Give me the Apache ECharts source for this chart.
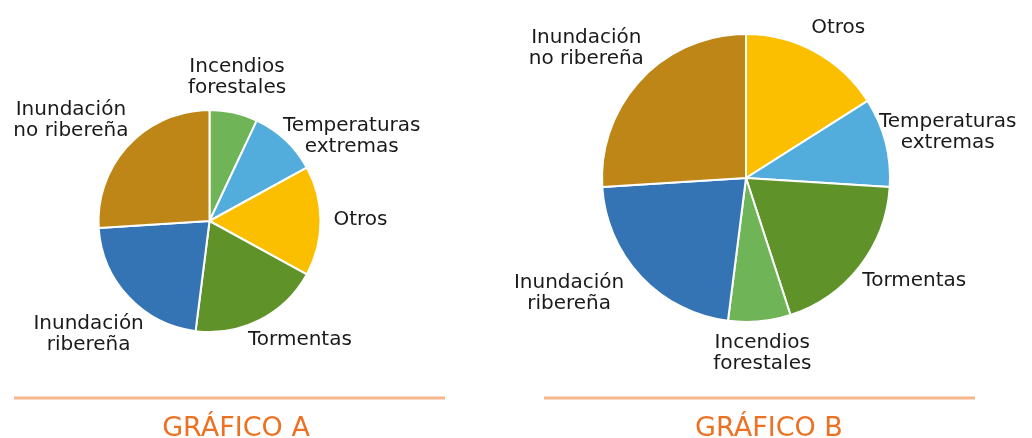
<!DOCTYPE html>
<html>
<head>
<meta charset="utf-8">
<script src="https://cdn.jsdelivr.net/npm/echarts@6/dist/echarts.min.js"></script>
<style>
  html, body { margin: 0; padding: 0; background: #fff; }
  #chart { width: 1032px; height: 438px; }
</style>
</head>
<body>
<div id="chart"></div>
<script>
// datos de los dos gráficos (porcentajes)
const categoriesA = ['Incendios\nforestales', 'Temperaturas\nextremas', 'Otros', 'Tormentas', 'Inundación\nribereña', 'Inundación\nno ribereña']
const valuesA = [7, 10, 16, 19, 22, 26]

const categoriesB = ['Otros', 'Temperaturas\nextremas', 'Tormentas', 'Incendios\nforestales', 'Inundación\nribereña', 'Inundación\nno ribereña']
const valuesB = [16, 10, 19, 7, 22, 26]

const titles = ['GRÁFICO A', 'GRÁFICO B']

// colores por categoría
const colorMap = {
  'Incendios\nforestales': '#6fb557',
  'Temperaturas\nextremas': '#52addd',
  'Otros': '#fbbf00',
  'Tormentas': '#60922a',
  'Inundación\nribereña': '#3474b4',
  'Inundación\nno ribereña': '#be8617',
}

// geometría de cada tarta
const pieA = { cx: 209.5, cy: 221, r: 111 }
const pieB = { cx: 746, cy: 178, r: 144 }
const labelGap = 12

// pequeños ajustes manuales de las etiquetas [dx, dy]
const nudgeA = [[-10, -3], [11, 20], [1, -1], [11, 0], [9, 15], [-7, -2]]
const nudgeB = [[4, -4], [-16, -2], [4, 1], [-3, -1], [-23, -6], [-4, -9]]

const chart = echarts.init(document.getElementById('chart'))

// coloca la etiqueta fuera del sector, siguiendo el ángulo medio
const makeLabelLayout = (pie, values, nudge) => (params) => {
  const i = params.dataIndex
  const total = values.reduce((a, b) => a + b, 0)
  let acc = 0
  for (let j = 0; j < i; j++) acc += values[j]
  const mid = ((acc + values[i] / 2) / total) * Math.PI * 2
  const ux = Math.sin(mid)
  const uy = -Math.cos(mid)
  const w = params.labelRect.width
  const h = params.labelRect.height
  const R = pie.r + labelGap
  return {
    x: pie.cx + R * ux + (w / 2) * ux + nudge[i][0],
    y: pie.cy + R * uy + (h / 2) * uy + nudge[i][1],
    align: 'center',
    verticalAlign: 'middle',
  }
}

const makeSeries = (pie, cats, values, nudge) => ({
  type: 'pie',
  center: [pie.cx, pie.cy],
  radius: [0, pie.r],
  startAngle: 90,
  clockwise: true,
  avoidLabelOverlap: false,
  silent: true,
  itemStyle: {
    borderColor: '#ffffff',
    borderWidth: 2,
  },
  label: {
    show: true,
    position: 'outside',
    formatter: '{b}',
    fontFamily: 'DejaVu Sans',
    fontSize: 20,
    lineHeight: 21,
    color: '#1a1a1a',
  },
  labelLine: { show: false },
  labelLayout: makeLabelLayout(pie, values, nudge),
  data: cats.map((name, i) => ({
    name,
    value: values[i],
    itemStyle: { color: colorMap[name] },
  })),
})

const option = {
  animation: false,
  series: [
    makeSeries(pieA, categoriesA, valuesA, nudgeA),
    makeSeries(pieB, categoriesB, valuesB, nudgeB),
  ],
  graphic: [
    { type: 'line', shape: { x1: 14, y1: 398, x2: 445, y2: 398 }, style: { stroke: '#f3b68d', lineWidth: 3 } },
    { type: 'line', shape: { x1: 544, y1: 398, x2: 975, y2: 398 }, style: { stroke: '#f3b68d', lineWidth: 3 } },
    {
      type: 'text', x: 236, y: 429,
      style: { text: titles[0], align: 'center', verticalAlign: 'middle', fontFamily: 'DejaVu Sans', fontSize: 27, fill: '#ec7123' },
    },
    {
      type: 'text', x: 769, y: 429,
      style: { text: titles[1], align: 'center', verticalAlign: 'middle', fontFamily: 'DejaVu Sans', fontSize: 27, fill: '#ec7123' },
    },
  ],
}

chart.setOption(option)
</script>
</body>
</html>
